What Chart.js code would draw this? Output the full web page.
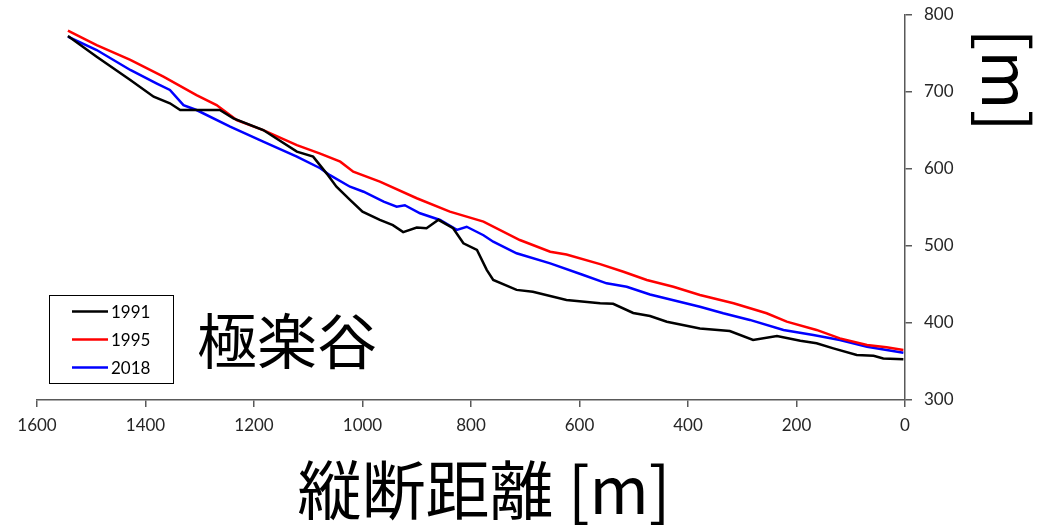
<!DOCTYPE html>
<html>
<head>
<meta charset="UTF-8">
<title>極楽谷</title>
<script src="https://cdn.jsdelivr.net/npm/chart.js@4.4.1/dist/chart.umd.min.js"></script>
<style>
  body { margin: 0; background: #fff; }
</style>
</head>
<body>
<canvas id="myChart" width="1046" height="527"></canvas>
<script>
// longitudinal distance [m] and elevation [m] for each survey year
var dist1991 = [1543, 1490, 1428, 1385, 1355, 1336, 1263, 1238, 1183, 1121, 1091, 1066, 1048, 1023, 1000, 968, 944, 925, 900, 882, 860, 833, 814, 789, 771, 759, 716, 686, 624, 562, 538, 501, 470, 439, 378, 323, 280, 236, 193, 163, 132, 89, 58, 40, 3];
var elev1991 = [772.7, 745.9, 715.6, 693.9, 685.3, 676.6, 676.6, 665.8, 650.6, 622.5, 616, 594, 577, 560, 544.5, 534, 527, 518, 524, 523, 534, 523, 503.5, 495, 469, 456, 443, 440.7, 430, 425.6, 425, 413, 409, 401.7, 393, 389.6, 378, 383, 377, 373.6, 367, 358.4, 357.5, 354, 353];

var dist1995 = [1543, 1490, 1428, 1367, 1306, 1269, 1232, 1183, 1121, 1078, 1041, 1017, 968, 900, 839, 777, 710, 654, 624, 562, 519, 476, 427, 378, 316, 255, 218, 163, 120, 70, 34, 3];
var elev1995 = [779.6, 761, 741.6, 720, 696, 683, 663.6, 650.6, 631, 620, 609.5, 596.5, 583.5, 562, 544.6, 531.6, 507.8, 492.6, 489, 476.5, 466.6, 455.8, 447, 436.4, 425.6, 412.6, 401.7, 391, 380, 371.4, 368.4, 365];

var dist2018 = [1543, 1490, 1428, 1379, 1355, 1330, 1306, 1244, 1183, 1121, 1078, 1060, 1023, 998, 961, 937, 922, 894, 857, 826, 808, 777, 759, 716, 654, 593, 550, 513, 470, 378, 335, 286, 224, 169, 120, 70, 3];
var elev2018 = [772, 754.5, 728.6, 711, 702.6, 683, 676.6, 655, 635.5, 616, 601, 592, 577, 570.5, 557.5, 551, 553, 542.5, 533.8, 521, 525, 514, 505.6, 490.5, 477.5, 462.3, 451.5, 447, 437, 421, 412.6, 404, 391, 384.4, 378, 369.2, 361.5];

var years = ['1991', '1995', '2018'];
var colors = ['#000000', '#ff0000', '#0000ff'];
var xTitle = '縦断距離 [m]';
var yTitle = '[m]';
var valleyName = '極楽谷';

function toPoints(xs, ys) {
    return xs.map(function (x, i) { return { x: x, y: ys[i] }; });
}

var tickFont = { family: 'Lato, "Noto Sans", sans-serif', size: 17 };
var axisColor = '#595959';

// draws the big texts and the boxed legend
var decorations = {
    id: 'decorations',
    afterDraw: function (chart) {
        var ctx = chart.ctx;
        ctx.save();
        ctx.fillStyle = '#000';
        ctx.textAlign = 'center';
        ctx.textBaseline = 'middle';
        ctx.font = '60px "Noto Sans CJK JP"';
        ctx.fillText(valleyName, 287, 341);

        ctx.font = '64px "Noto Sans CJK JP"';
        ctx.fillText(xTitle, 484, 490);

        ctx.translate(1006, 80);
        ctx.rotate(Math.PI / 2);
        ctx.fillText(yTitle, 0, 0);
        ctx.restore();

        // legend
        ctx.save();
        ctx.strokeStyle = '#000';
        ctx.lineWidth = 1;
        ctx.strokeRect(49.5, 295.5, 124, 88);
        ctx.font = '17px Lato, "Noto Sans", sans-serif';
        ctx.textBaseline = 'middle';
        ctx.textAlign = 'left';
        chart.data.datasets.forEach(function (ds, i) {
            var y = 311.5 + i * 28;
            ctx.strokeStyle = ds.borderColor;
            ctx.lineWidth = 2.5;
            ctx.beginPath();
            ctx.moveTo(72, y);
            ctx.lineTo(108, y);
            ctx.stroke();
            ctx.fillStyle = '#000';
            ctx.fillText(ds.label, 111, y + 1);
        });
        ctx.restore();
    }
};

var ctx = document.getElementById('myChart').getContext('2d');
var chart = new Chart(ctx, {
    type: 'line',
    data: {
        datasets: [
            { label: years[0], data: toPoints(dist1991, elev1991), borderColor: colors[0] },
            { label: years[1], data: toPoints(dist1995, elev1995), borderColor: colors[1] },
            { label: years[2], data: toPoints(dist2018, elev2018), borderColor: colors[2] }
        ]
    },
    options: {
        responsive: false,
        animation: false,
        layout: { padding: { left: 37, top: 15, right: 0, bottom: 0 } },
        elements: {
            point: { radius: 0 },
            line: { borderWidth: 2.5, tension: 0, fill: false }
        },
        plugins: {
            legend: { display: false },
            tooltip: { enabled: false }
        },
        scales: {
            x: {
                type: 'linear',
                reverse: true,
                min: 0,
                max: 1600,
                ticks: {
                    stepSize: 200, color: '#262626', font: tickFont, padding: 8, maxRotation: 0,
                    callback: function (v) { return String(v); }
                },
                grid: { drawOnChartArea: false, color: axisColor, tickLength: 7, lineWidth: 1.5 },
                border: { color: axisColor, width: 1.5 },
                afterFit: function (scale) {
                    scale.height = 127;
                    scale.paddingLeft = 0;
                    scale.paddingRight = 0;
                }
            },
            y: {
                position: 'right',
                min: 300,
                max: 800,
                ticks: {
                    stepSize: 100, color: '#262626', font: tickFont, padding: 12,
                    callback: function (v) { return String(v); }
                },
                grid: { drawOnChartArea: false, color: axisColor, tickLength: 7, lineWidth: 1.5 },
                border: { color: axisColor, width: 1.5 },
                afterFit: function (scale) {
                    scale.width = 141;
                    scale.paddingTop = 0;
                    scale.paddingBottom = 0;
                }
            }
        }
    },
    plugins: [decorations]
});
</script>
</body>
</html>
